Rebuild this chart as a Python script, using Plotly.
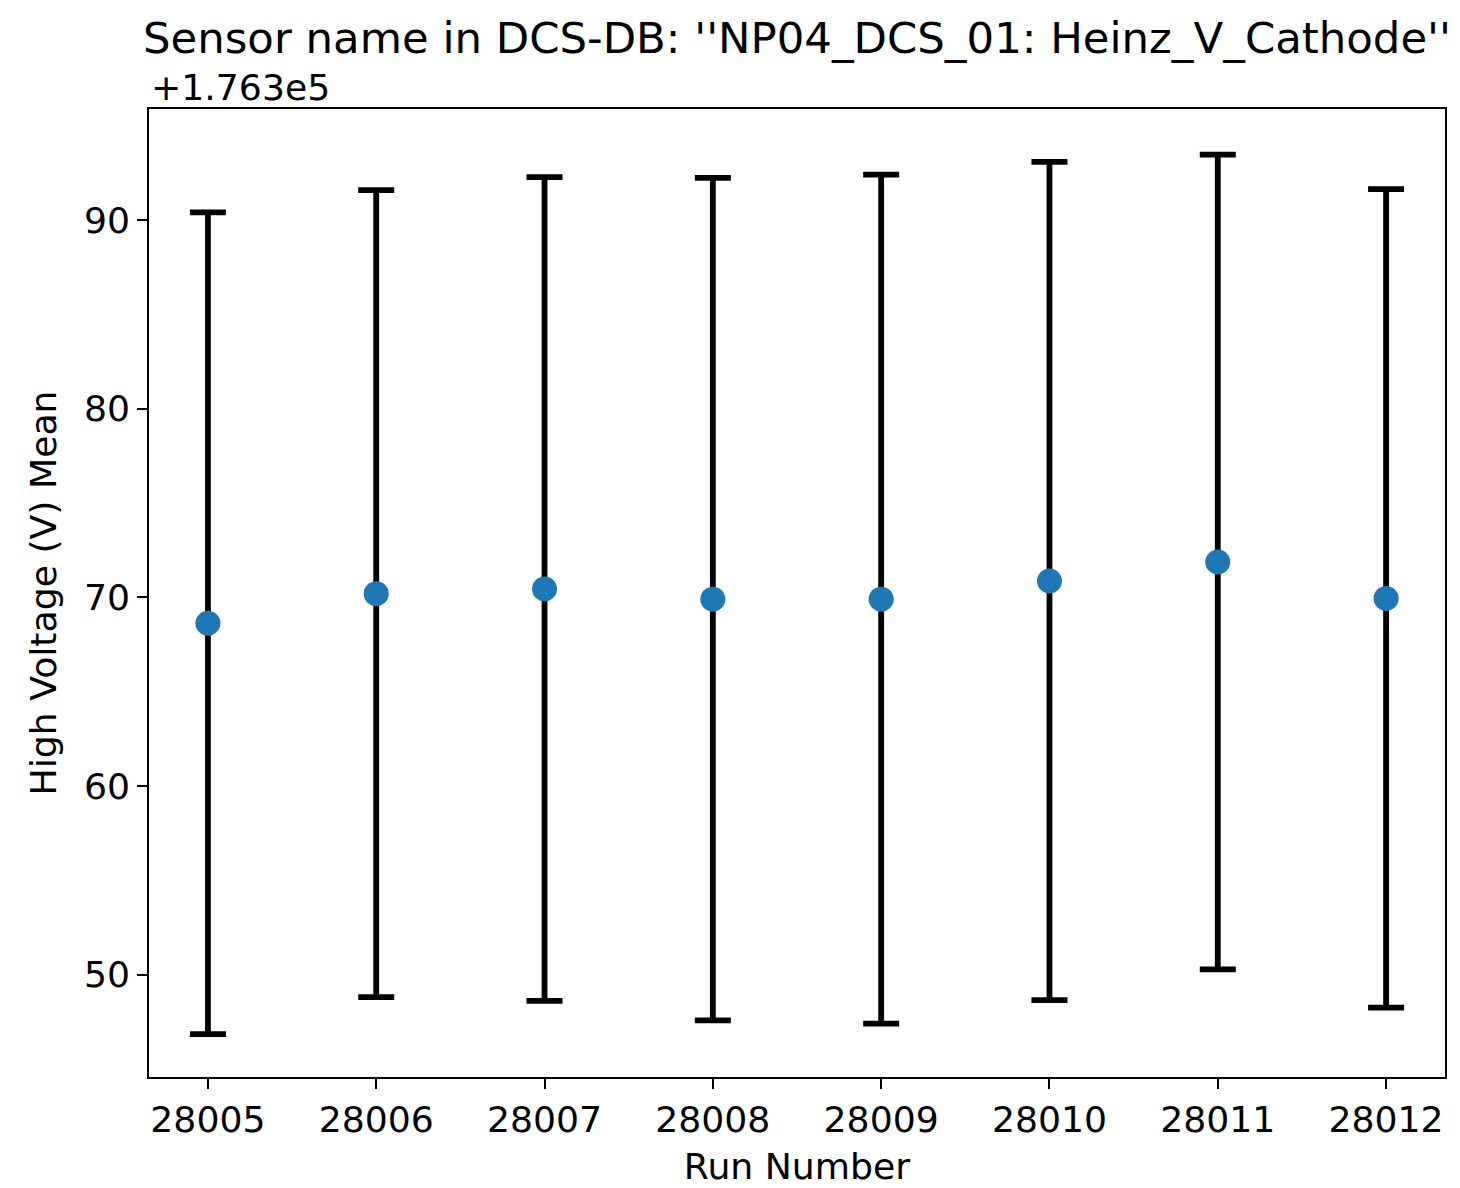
import plotly.graph_objects as go

runs = [28005, 28006, 28007, 28008, 28009, 28010, 28011, 28012]
offset = 176300
mean_minus_offset = [68.63, 70.20, 70.45, 69.91, 69.91, 70.87, 71.88, 69.95]
std_dev = [21.78, 21.39, 21.83, 22.33, 22.50, 22.22, 21.59, 21.69]
y_ticks = [50, 60, 70, 80, 90]

FONT = "DejaVu Sans"
FS = 36.2
fig = go.Figure()
fig.add_trace(go.Scatter(
    x=runs,
    y=mean_minus_offset,
    mode="markers",
    marker=dict(color="#1f77b4", size=25, line=dict(width=0)),
    error_y=dict(type="data", array=std_dev, visible=True, color="black",
                 thickness=5.8, width=18),
    showlegend=False,
))

fig.update_layout(
    width=1460, height=1188,
    margin=dict(l=149, r=15, t=109, b=111),
    paper_bgcolor="white", plot_bgcolor="white",
    font=dict(family=FONT, size=FS, color="black"),
    title=dict(text="Sensor name in DCS-DB: ''NP04_DCS_01: Heinz_V_Cathode''",
               x=797 / 1460, xanchor="center", y=1 - 38 / 1188, yanchor="middle",
               font=dict(family=FONT, size=43.4, color="black")),
    xaxis=dict(range=[28004.65, 28012.35], tickmode="array", tickvals=runs,
               ticktext=[str(r) for r in runs], automargin=False,
               showgrid=False, zeroline=False, showline=True, linecolor="black",
               linewidth=2.2, mirror=True, ticks="outside", ticklen=9.7,
               tickwidth=2.2, tickcolor="black",
               title=dict(text="Run Number", standoff=16,
                          font=dict(family=FONT, size=FS))),
    yaxis=dict(range=[44.58, 95.89], tickmode="array", tickvals=y_ticks,
               ticktext=[str(v) for v in y_ticks], automargin=False,
               showgrid=False, zeroline=False, showline=True, linecolor="black",
               linewidth=2.2, mirror=True, ticks="outside", ticklen=9.7,
               tickwidth=2.2, tickcolor="black",
               title=dict(text="High Voltage (V) Mean", standoff=16,
                          font=dict(family=FONT, size=FS))),
    annotations=[dict(text="+1.763e5", xref="paper", yref="paper", x=0, y=1,
                      xanchor="left", yanchor="bottom", yshift=-2, showarrow=False,
                      font=dict(family=FONT, size=FS, color="black"))],
)

fig.write_html("out.html")
